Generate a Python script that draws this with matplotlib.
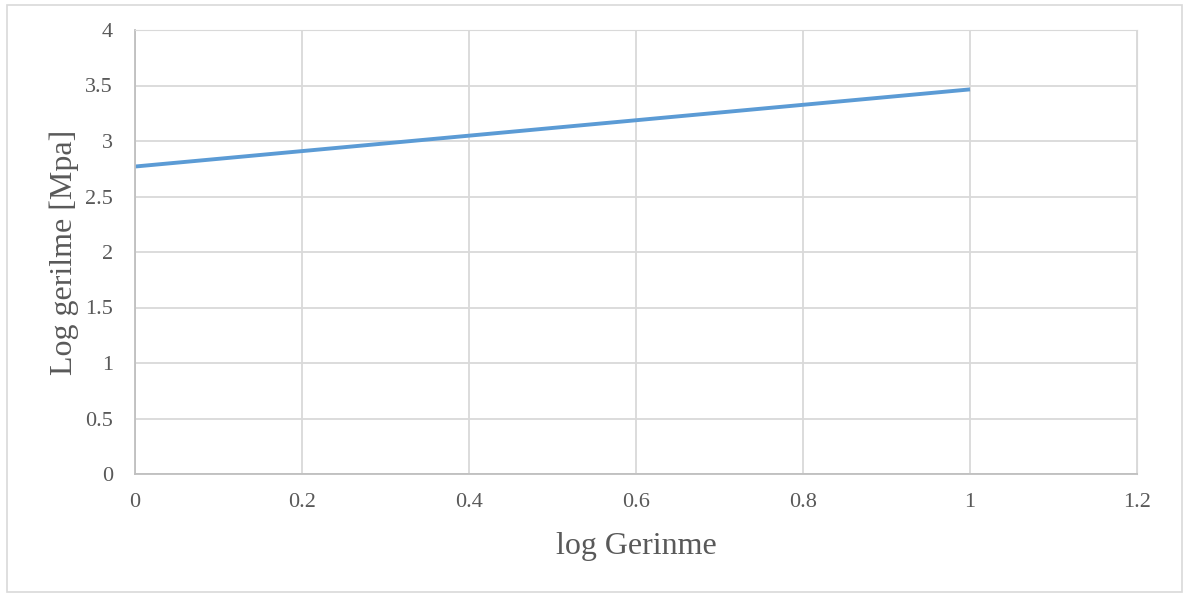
import matplotlib
matplotlib.use("Agg")
import matplotlib.pyplot as plt
from matplotlib.patches import Rectangle

x_vals = [0, 1]
y_vals = [2.77, 3.465]
x_ticks = [0, 0.2, 0.4, 0.6, 0.8, 1, 1.2]
x_labels = ["0", "0.2", "0.4", "0.6", "0.8", "1", "1.2"]
y_ticks = [0, 0.5, 1, 1.5, 2, 2.5, 3, 3.5, 4]
y_labels = ["0", "0.5", "1", "1.5", "2", "2.5", "3", "3.5", "4"]

plt.rcParams['font.family'] = ['Liberation Serif', 'DejaVu Serif']

fig = plt.figure(figsize=(11.89, 5.97), dpi=100)
ax = fig.add_axes([135/1189, 1 - 474/597, (1137-135)/1189, (474-30)/597])

fig.patches.append(Rectangle((7/1189, 1 - 592/597), (1182-7)/1189, (592-5)/597,
                             transform=fig.transFigure, fill=False,
                             edgecolor='#d9d9d9', linewidth=1.2))

ax.plot(x_vals, y_vals, color='#5b9bd5', linewidth=2.8, solid_capstyle='butt')
ax.set_xlim(0, 1.2)
ax.set_ylim(0, 4)
ax.set_xticks(x_ticks)
ax.set_xticklabels(x_labels)
ax.set_yticks(y_ticks)
ax.set_yticklabels(y_labels)
ax.grid(True, color='#d9d9d9', linewidth=1.3)
ax.set_axisbelow(True)
for s in ['top', 'right']:
    ax.spines[s].set_color('#d9d9d9')
for s in ['left', 'bottom']:
    ax.spines[s].set_color('#bfbfbf')
    ax.spines[s].set_linewidth(1.3)
ax.tick_params(length=0, labelsize=16, colors='#595959')
ax.tick_params(axis='x', pad=14)
ax.tick_params(axis='y', pad=16)
ax.set_xlabel('log Gerinme', fontsize=23, color='#595959', labelpad=14)
ax.set_ylabel('Log gerilme [Mpa]', fontsize=23, color='#595959', labelpad=4)

fig.savefig('out.png', dpi=100)
